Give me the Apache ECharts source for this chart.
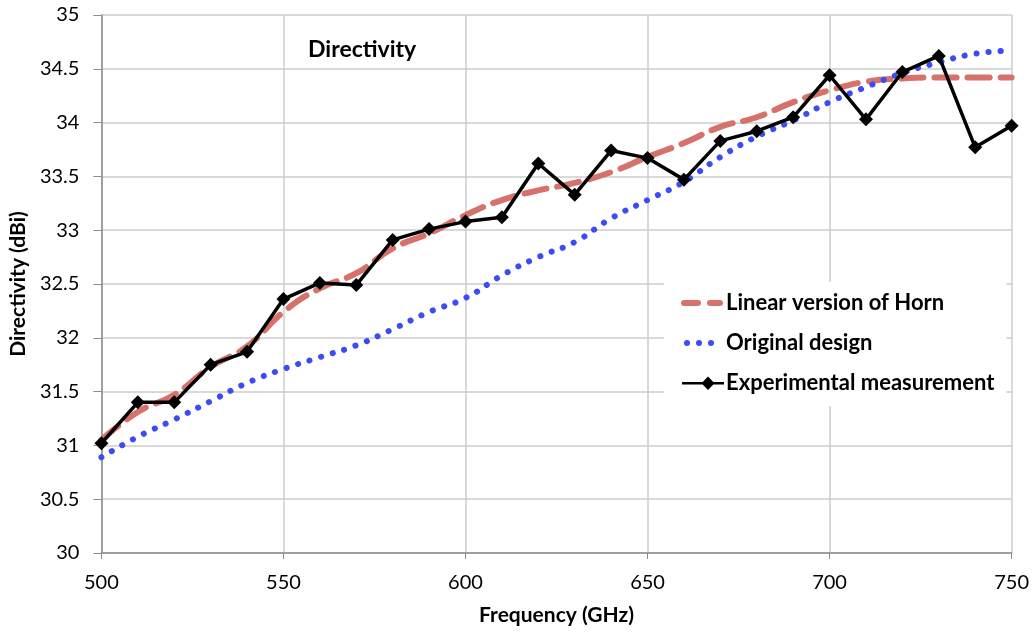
<!DOCTYPE html>
<html><head><meta charset="utf-8">
<script src="https://cdn.jsdelivr.net/npm/echarts@6/dist/echarts.min.js"></script>
<style>html,body{margin:0;padding:0;background:#fff}#c{width:1032px;height:632px}</style>
</head><body><div id="c"></div>
<script>
const freq = [500,510,520,530,540,550,560,570,580,590,600,610,620,630,640,650,660,670,680,690,700,710,720,730,740,750];
const linearHorn = [31.05,31.31,31.47,31.73,31.92,32.24,32.46,32.60,32.83,32.97,33.14,33.28,33.37,33.44,33.54,33.68,33.81,33.96,34.05,34.19,34.30,34.38,34.41,34.42,34.42,34.42];
const originalDesign = [30.89,31.08,31.24,31.41,31.58,31.71,31.82,31.93,32.08,32.24,32.37,32.58,32.75,32.89,33.11,33.28,33.45,33.68,33.87,34.02,34.19,34.33,34.46,34.56,34.64,34.67];
const experimental = [31.02,31.40,31.40,31.75,31.87,32.36,32.51,32.49,32.91,33.01,33.08,33.12,33.62,33.33,33.74,33.67,33.47,33.83,33.92,34.05,34.44,34.03,34.47,34.62,33.77,33.97];
const seriesNames = ['Linear version of Horn','Original design','Experimental measurement'];
const chartTitle = 'Directivity';
const xName = 'Frequency (GHz)';
const yName = 'Directivity (dBi)';

const font = 'Lato, "Open Sans", sans-serif';
const pair = a => freq.map((f,i)=>[f,a[i]]);
// legend icon shapes (46 x 14 box; tiny corner marks fix the bounding box)
const box = 'M0,0 h0.01 v0.01 h-0.01 z M46,14 h-0.01 v-0.01 h0.01 z ';
const iconDash = 'path://' + box + 'M6,4 h14 a3,3 0 0 1 0,6 h-14 a3,3 0 0 1 0,-6 z M32,4 h10 a3,3 0 0 1 0,6 h-10 a3,3 0 0 1 0,-6 z';
const dot = cx => 'M' + (cx-3) + ',7 a3,3 0 1 0 6,0 a3,3 0 1 0 -6,0 z ';
const iconDot = 'path://' + box + dot(9) + dot(21) + dot(33);
const iconDiamond = 'path://' + box + 'M4,6 h42 v2.6 h-42 z M30,0.5 L36.5,7.3 L30,14 L23.5,7.3 z';

const chart = echarts.init(document.getElementById('c'), null, {renderer:'canvas'});
chart.setOption({
  animation:false,
  backgroundColor:'#fff',
  title:{text:chartTitle,left:303,top:33,textStyle:{fontFamily:font,fontSize:23,fontWeight:'bold',color:'#000'}},
  grid:{left:100,right:18,top:15,bottom:79},
  legend:{
    orient:'vertical',left:664,top:282,
    backgroundColor:'#fff',padding:[10,12,12,14],
    itemWidth:46,itemHeight:14,itemGap:18,symbolKeepAspect:false,
    textStyle:{fontFamily:font,fontSize:22,fontWeight:'bold',color:'#000',padding:[0,0,0,-3]},
    data:[
      {name:seriesNames[0],icon:iconDash,itemStyle:{color:'#d6726b'}},
      {name:seriesNames[1],icon:iconDot,itemStyle:{color:'#3c4cf5'}},
      {name:seriesNames[2],icon:iconDiamond,itemStyle:{color:'#000'}}
    ]
  },
  xAxis:{
    type:'value',min:500,max:750,interval:50,
    name:xName,nameLocation:'middle',nameGap:52,
    nameTextStyle:{fontFamily:font,fontSize:21,fontWeight:'bold',color:'#000'},
    axisLine:{lineStyle:{color:'#8c8c8c',width:1.5}},
    axisTick:{show:true,length:6,lineStyle:{color:'#8c8c8c'}},
    axisLabel:{fontFamily:font,fontSize:20,color:'#000',margin:20},
    splitLine:{lineStyle:{color:'#cccccc',width:1.5}}
  },
  yAxis:{
    type:'value',min:30,max:35,interval:0.5,
    name:yName,nameLocation:'middle',nameGap:69,
    nameTextStyle:{fontFamily:font,fontSize:21,fontWeight:'bold',color:'#000'},
    axisLine:{show:true,lineStyle:{color:'#8c8c8c',width:1.5}},
    axisTick:{show:true,length:8,lineStyle:{color:'#8c8c8c'}},
    axisLabel:{fontFamily:font,fontSize:20,color:'#000',margin:22},
    splitLine:{lineStyle:{color:'#cccccc',width:1.5}}
  },
  series:[
    {name:seriesNames[0],type:'line',data:pair(linearHorn),smooth:true,showSymbol:false,symbol:'none',
     lineStyle:{color:'#d6726b',width:6,type:[22,11],cap:'round'},itemStyle:{color:'#d6726b'},z:2},
    {name:seriesNames[1],type:'line',data:pair(originalDesign),smooth:true,showSymbol:false,symbol:'none',
     lineStyle:{color:'#3c4cf5',width:6,type:[0.1,12],cap:'round'},itemStyle:{color:'#3c4cf5'},z:3},
    {name:seriesNames[2],type:'line',data:pair(experimental),symbol:'diamond',symbolSize:14,
     lineStyle:{color:'#000',width:3.5},itemStyle:{color:'#000'},z:4}
  ]
});
</script></body></html>
